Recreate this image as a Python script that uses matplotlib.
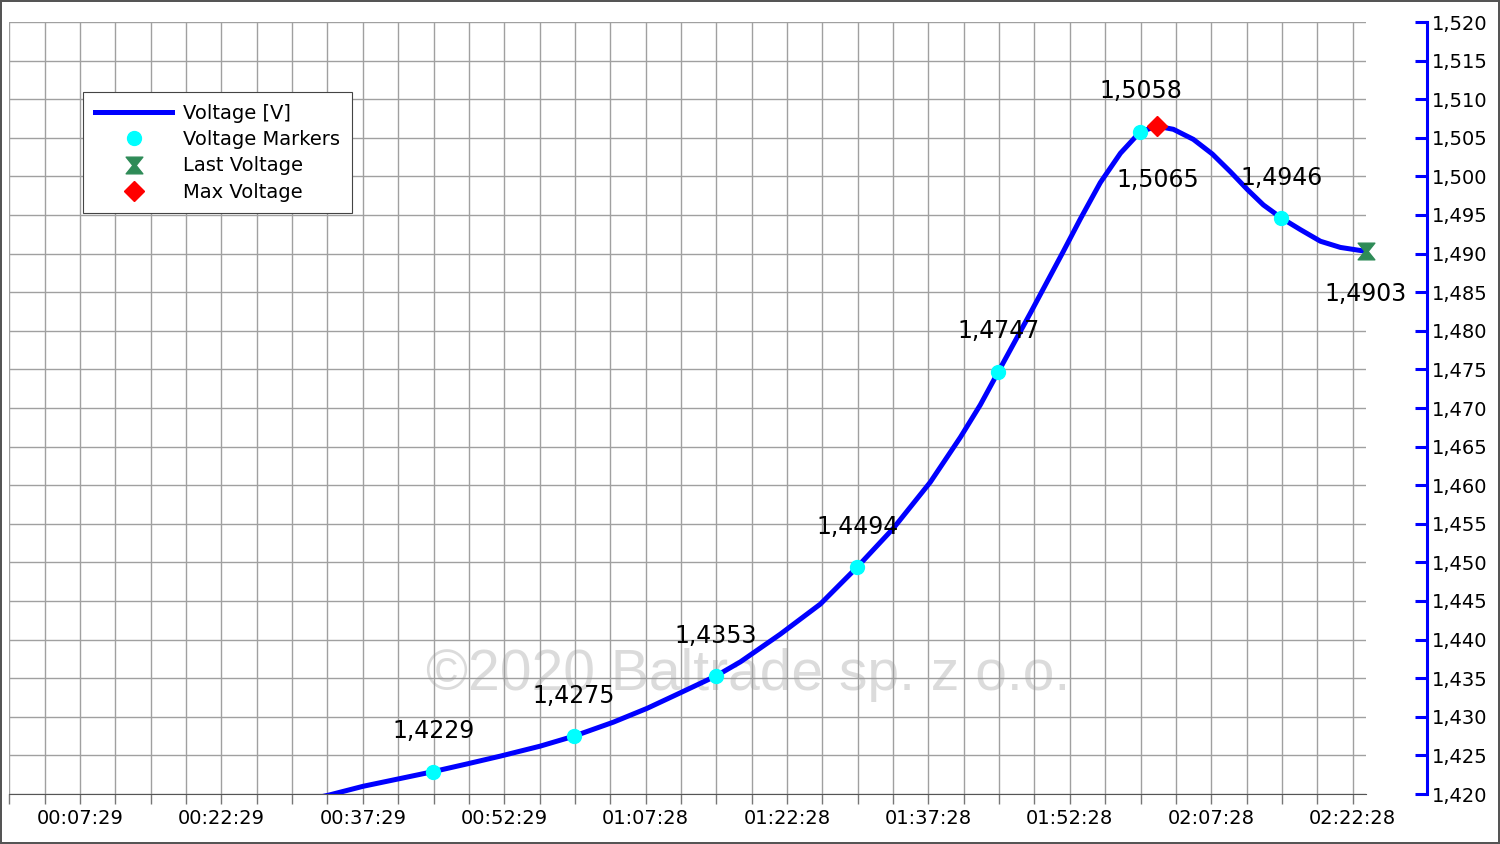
import numpy as np
import matplotlib
matplotlib.use('Agg')
from matplotlib import pyplot as plt
from matplotlib.path import Path
from matplotlib.ticker import FixedLocator, MultipleLocator, FuncFormatter

# Voltage curve (time in seconds, voltage in V)
time_s = [1722, 2041, 2251, 2486, 2697, 2913, 3123, 3378, 3594, 3843, 4059,
          4269, 4498, 4651, 4906, 5161, 5396, 5625, 5861, 6052, 6179, 6294,
          6498, 6708, 6816, 6943, 7071, 7198, 7306, 7408, 7535, 7656, 7771,
          7879, 7981, 8096, 8217, 8344, 8471, 8631]
voltage = [1.4184, 1.4199, 1.4210, 1.4220, 1.4229, 1.4239, 1.4249, 1.4262,
           1.4275, 1.4293, 1.4311, 1.4331, 1.4353, 1.4371, 1.4407, 1.4446,
           1.4494, 1.4544, 1.4604, 1.4662, 1.4704, 1.4747, 1.4823, 1.4903,
           1.4945, 1.4992, 1.5030, 1.5058, 1.5065, 1.5061, 1.5048, 1.5029,
           1.5006, 1.4983, 1.4963, 1.4946, 1.4931, 1.4916, 1.4908, 1.4903]

# marker points
marker_times = [2697, 3594, 4498, 5396, 6294, 7198, 8096]
marker_values = [1.4229, 1.4275, 1.4353, 1.4494, 1.4747, 1.5058, 1.4946]
max_time, max_value = 7306, 1.5065
last_time, last_value = 8631, 1.4903

# x axis ticks
tick_times = [449, 1349, 2249, 3149, 4049, 4949, 5849, 6749, 7649, 8549]
tick_labels = ['00:07:29', '00:22:29', '00:37:29', '00:52:29', '01:07:28',
               '01:22:28', '01:37:28', '01:52:28', '02:07:28', '02:22:28']


def comma(v, digits):
    return f"{v:.{digits}f}".replace('.', ',')


# hourglass marker for the last value
hourglass = Path([(-1, 1), (1, 1), (0.2, 0), (1, -1), (-1, -1), (-0.2, 0), (-1, 1)],
                 [Path.MOVETO] + [Path.LINETO] * 5 + [Path.CLOSEPOLY])

fig = plt.figure(figsize=(15, 8.44), dpi=100)
fig.patch.set_edgecolor('#555555')
fig.patch.set_linewidth(1.5)
ax = fig.add_axes([9 / 1500, 50 / 844, 1357 / 1500, 772 / 844])

ax.plot(time_s, voltage, color='#0000ff', lw=3.6, zorder=3, label='Voltage [V]',
        solid_joinstyle='round')
ax.plot(marker_times, marker_values, ls='none', marker='o', ms=10,
        color='#00ffff', zorder=4, label='Voltage Markers')
ax.plot([last_time], [last_value], ls='none', marker=hourglass, ms=12,
        color='#2e8b57', zorder=4, clip_on=False, label='Last Voltage')
ax.plot([max_time], [max_value], ls='none', marker='D', ms=10,
        color='#ff0000', zorder=5, label='Max Voltage')

# value labels
for t, v in zip(marker_times, marker_values):
    ax.annotate(comma(v, 4), (t, v), xytext=(0, 24), textcoords='offset points',
                ha='center', va='baseline', fontsize=17, zorder=6)
ax.annotate(comma(max_value, 4), (max_time, max_value), xytext=(0, -44),
            textcoords='offset points', ha='center', va='baseline', fontsize=17, zorder=6)
ax.annotate(comma(last_value, 4), (last_time, last_value), xytext=(0, -36),
            textcoords='offset points', ha='center', va='baseline', fontsize=17,
            zorder=6, annotation_clip=False)

# watermark
ax.text(0.5446, 0.1347, '\u00a92020 Baltrade sp. z o.o.', transform=ax.transAxes,
        ha='center', va='baseline', fontsize=41, family='Liberation Sans',
        color='#999999', alpha=0.35, zorder=2.5)

ax.set_xlim(-3, 8634)
ax.set_ylim(1.42, 1.52)

ax.xaxis.set_major_locator(FixedLocator(tick_times))
ax.set_xticklabels(tick_labels)
ax.xaxis.set_minor_locator(MultipleLocator(225, offset=449 % 225))
ax.tick_params(axis='x', which='both', direction='out', length=7, width=1,
               color='#777777', labelsize=14)
ax.grid(True, axis='x', which='both', color='#a0a0a0', lw=1, zorder=1)

ax.yaxis.tick_right()
ax.yaxis.set_major_locator(MultipleLocator(0.005))
ax.yaxis.set_major_formatter(FuncFormatter(lambda v, p: comma(v, 3)))
ax.tick_params(axis='y', direction='in', length=8.6, width=2.2, color='#0000ff',
               labelsize=14, pad=3.5)
ax.grid(True, axis='y', which='major', color='#a0a0a0', lw=1, zorder=1)
ax.set_axisbelow(True)

for s in ['top', 'left']:
    ax.spines[s].set_visible(False)
ax.spines['right'].set_position(('outward', 44))
ax.spines['right'].set_color('#0000ff')
ax.spines['right'].set_linewidth(2.2)
ax.spines['bottom'].set_color('#555555')

leg = ax.legend(loc='upper left', bbox_to_anchor=(0.0545, 0.909), borderaxespad=0,
                fontsize=14, handlelength=4, handletextpad=0.55, labelspacing=0.37,
                borderpad=0.6, numpoints=1, fancybox=False, framealpha=1,
                edgecolor='#444444')
leg.get_frame().set_linewidth(0.8)

fig.savefig('out.png', dpi=100, edgecolor=fig.get_edgecolor())
